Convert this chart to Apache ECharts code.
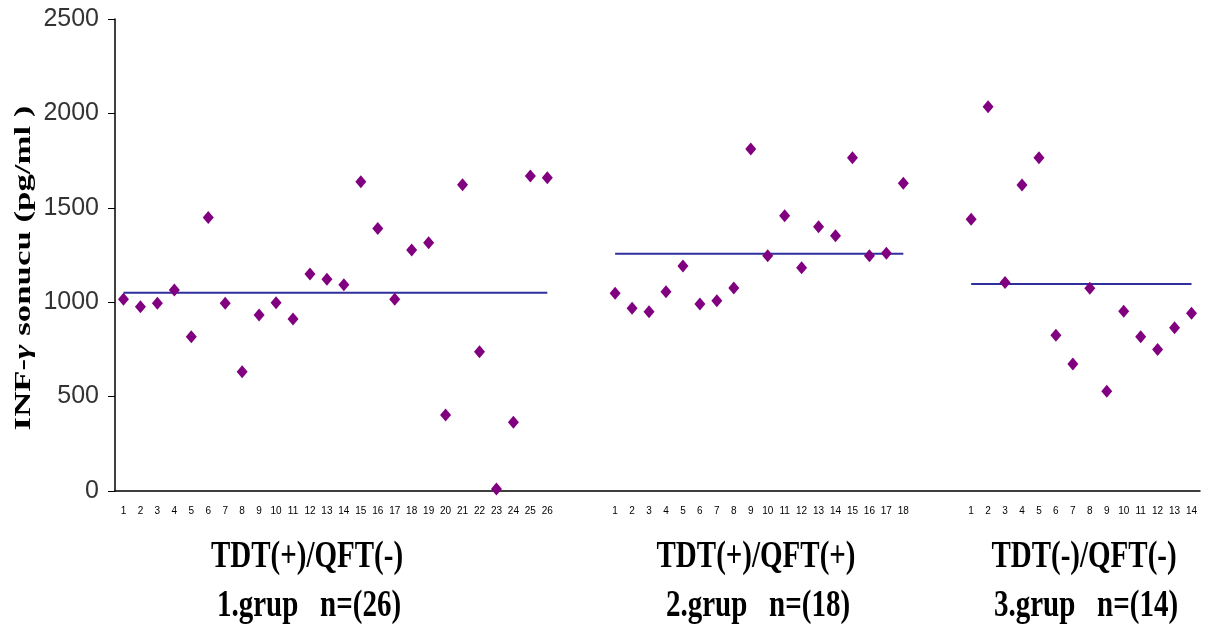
<!DOCTYPE html>
<html>
<head>
<meta charset="utf-8">
<script src="https://cdn.jsdelivr.net/npm/echarts@6/dist/echarts.min.js"></script>
<style>
  html, body { margin: 0; padding: 0; background: #fff; }
  #chart { width: 1205px; height: 630px; }
</style>
</head>
<body>
<div id="chart"></div>
<script>
// tick labels under each group (one per subject)
const group1Labels = ['1','2','3','4','5','6','7','8','9','10','11','12','13','14','15','16','17','18','19','20','21','22','23','24','25','26'];
const group2Labels = ['1','2','3','4','5','6','7','8','9','10','11','12','13','14','15','16','17','18'];
const group3Labels = ['1','2','3','4','5','6','7','8','9','10','11','12','13','14'];

// INF-gamma results (pg/ml)
const group1Values = [1015, 976, 994, 1065, 817, 1448, 994, 632, 932, 997, 911, 1149, 1121, 1093, 1638, 1391, 1015, 1276, 1315, 403, 1622, 738, 11, 364, 1668, 1659];
const group2Values = [1047, 968, 950, 1056, 1192, 990, 1008, 1075, 1811, 1246, 1458, 1183, 1400, 1352, 1765, 1246, 1259, 1630];
const group3Values = [1439, 2035, 1105, 1621, 1765, 825, 673, 1074, 528, 952, 817, 750, 865, 941];

// group means (horizontal lines)
const groupMeans = [1050, 1257, 1096];

const groupTitles = ['TDT(+)/QFT(-)', 'TDT(+)/QFT(+)', 'TDT(-)/QFT(-)'];
const groupSubtitles = ['1.grup   n=(26)', '2.grup   n=(18)', '3.grup   n=(14)'];

const gap = ['', '', ''];
const categories = [].concat(group1Labels, gap, group2Labels, gap, group3Labels);

const blank = n => new Array(n).fill('-');
const scatterData = [].concat(group1Values, blank(3), group2Values, blank(3), group3Values);

const groups = [group1Labels, group2Labels, group3Labels];
const lineSeries = groups.map((g, i) => {
  let data = [];
  groups.forEach((h, j) => {
    data = data.concat(h.map(() => (i === j ? groupMeans[i] : '-')));
    if (j < groups.length - 1) data = data.concat(blank(3));
  });
  return {
    type: 'line',
    data: data,
    symbol: 'none',
    lineStyle: { color: '#2f2f9e', width: 2 },
    z: 2,
    silent: true
  };
});

const chart = echarts.init(document.getElementById('chart'));

const captionCenters = [307, 756, 1084];
const captions = [];
groupTitles.forEach((t, i) => {
  captions.push({
    type: 'text', x: captionCenters[i], y: 557, scaleY: 1.3,
    style: { text: t, textAlign: 'center', textVerticalAlign: 'middle',
      font: 'bold 29px "Liberation Serif", "Times New Roman", serif', fill: '#000' }
  });
  captions.push({
    type: 'text', x: captionCenters[i] + 2, y: 606, scaleY: 1.3,
    style: { text: groupSubtitles[i], textAlign: 'center', textVerticalAlign: 'middle',
      font: 'bold 29px "Liberation Serif", "Times New Roman", serif', fill: '#000' }
  });
});

chart.setOption({
  animation: false,
  grid: { left: 115, right: 5, top: 19, bottom: 139 },
  xAxis: {
    type: 'category',
    data: categories,
    boundaryGap: true,
    axisLine: { lineStyle: { color: '#000', width: 1.5 } },
    axisTick: { interval: 0, length: 5, lineStyle: { color: '#000' } },
    axisLabel: { interval: 0, margin: 15, color: '#000', fontSize: 10,
      fontFamily: '"Liberation Sans", Arial, sans-serif' },
    splitLine: { show: false }
  },
  yAxis: {
    type: 'value',
    min: 0,
    max: 2500,
    interval: 500,
    axisLine: { show: true, lineStyle: { color: '#000', width: 1.5 } },
    axisTick: { show: true, length: 7, lineStyle: { color: '#000' } },
    axisLabel: { margin: 16, color: '#333', fontSize: 25,
      fontFamily: '"Liberation Sans", Arial, sans-serif',
      formatter: v => String(v) },
    splitLine: { show: false }
  },
  series: lineSeries.concat([{
    type: 'scatter',
    data: scatterData,
    symbol: 'diamond',
    symbolSize: [11, 13],
    itemStyle: { color: '#800080', opacity: 1 },
    z: 3
  }]),
  graphic: [{
    type: 'text', x: 24, y: 268, rotation: Math.PI / 2, scaleX: 1.45,
    style: {
      text: 'INF-{g|γ} sonucu (pg/ml )',
      textAlign: 'center', textVerticalAlign: 'middle',
      font: 'bold 24px "Liberation Serif", "Times New Roman", serif', fill: '#000',
      rich: { g: { fontStyle: 'italic', fontWeight: 'bold', fontSize: 24,
        fontFamily: '"Liberation Serif", "Times New Roman", serif', fill: '#000' } }
    }
  }].concat(captions)
});
</script>
</body>
</html>
